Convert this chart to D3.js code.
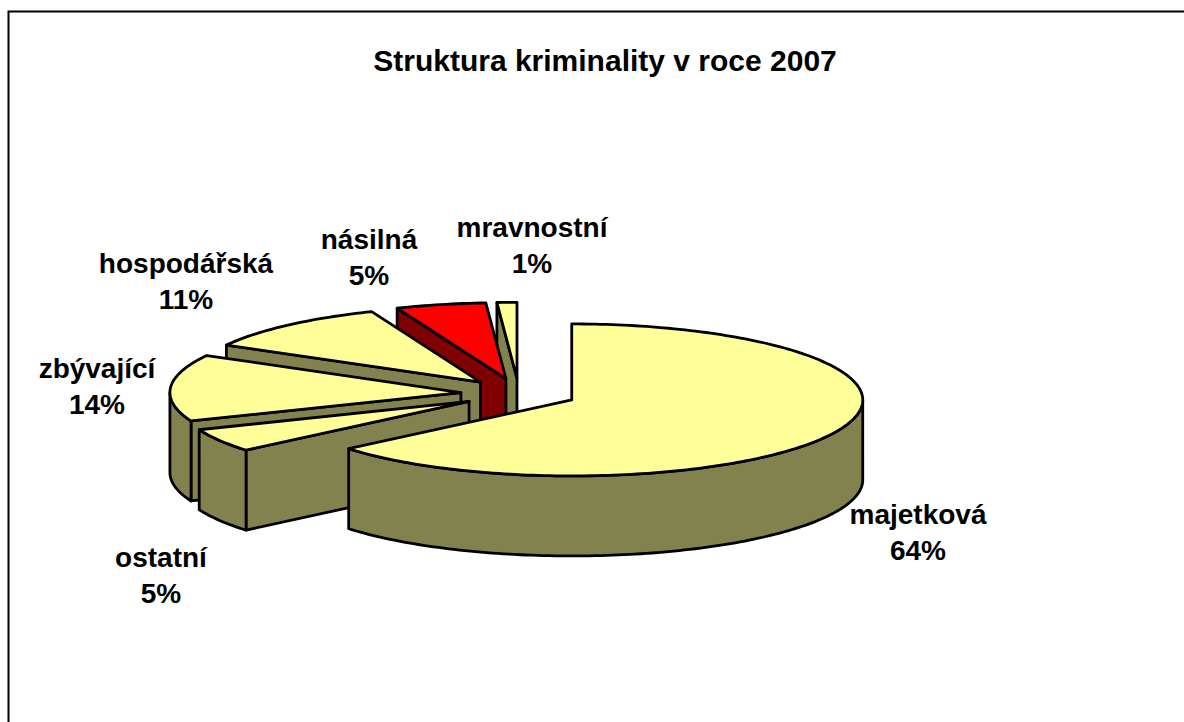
<!DOCTYPE html>
<html><head><meta charset="utf-8">
<script src="https://cdn.jsdelivr.net/npm/d3@7/dist/d3.min.js"></script>
<style>html,body{margin:0;padding:0;background:#fff}svg{display:block}</style>
</head><body><svg id="c" width="1184" height="722"></svg>
<script>
const categories=["majetková","ostatní","zbývající","hospodářská","násilná","mravnostní"];
const values=[63.9,5.0,14.2,10.8,5.0,1.1];
const percentLabels=["64%","5%","14%","11%","5%","1%"];
const title="Struktura kriminality v roce 2007";

const topColors=["#ffff99","#ffff99","#ffff99","#ffff99","#ff0000","#ffff99"];
const sideColors=["#82824e","#82824e","#82824e","#82824e","#7f0000","#82824e"];
const labelX=[918,161,97,186,369,532];
const labelY=[515,558,369,264,240,228];
const cx=519,cy=393.5,rx=291,ry=76,depth=80,explode=0.2,lh=36;
const TAU=2*Math.PI;

const svg=d3.select("#c");
svg.append("path").attr("d","M8.5,722V11.5H1184").attr("fill","none").attr("stroke","#000").attr("stroke-width",2);

const pie=d3.pie().sort(null).value(d=>d)(values);
const lineGen=d3.line();
const g=svg.append("g").attr("stroke","#000").attr("stroke-width",2.8).attr("stroke-linejoin","round");
function pt(a,c,dz){return [c[0]+rx*Math.sin(a),c[1]-ry*Math.cos(a)+(dz||0)];}
function arcPts(s,e,c,dz){const n=Math.max(2,Math.ceil((e-s)/0.02));
  return d3.range(n+1).map(i=>pt(s+(e-s)*i/n,c,dz));}

pie.map((d,i)=>({d,i})).reverse().forEach(({d,i})=>{
  const mid=(d.startAngle+d.endAngle)/2;
  const c=[cx+explode*rx*Math.sin(mid),cy-explode*ry*Math.cos(mid)];
  const apexLow=[c[0],c[1]+depth];
  const s=d.startAngle,e=d.endAngle;
  // radial walls facing the viewer
  if(Math.sin(s)<-1e-6) g.append("path").attr("d",lineGen([c,pt(s,c),pt(s,c,depth),apexLow])+"Z").attr("fill",sideColors[i]);
  if(Math.sin(e)>1e-6) g.append("path").attr("d",lineGen([c,pt(e,c),pt(e,c,depth),apexLow])+"Z").attr("fill",sideColors[i]);
  // outer rim, front half only
  const rs=Math.max(s,TAU/4),re=Math.min(e,3*TAU/4);
  if(re>rs){
    const rim=arcPts(rs,re,c,0).concat(arcPts(rs,re,c,depth).reverse());
    g.append("path").attr("d",lineGen(rim)+"Z").attr("fill",sideColors[i]);
  }
  // top face
  g.append("path").attr("d",lineGen([c].concat(arcPts(s,e,c,0)))+"Z").attr("fill",topColors[i]);
});

const font="'Liberation Sans',Arial,sans-serif";
svg.append("text").attr("x",605).attr("y",71).attr("text-anchor","middle")
  .attr("font-family",font).attr("font-weight","bold").attr("font-size",30).text(title);
categories.forEach((t,i)=>{
  const lab=svg.append("text").attr("text-anchor","middle").attr("font-family",font)
    .attr("font-weight","bold").attr("font-size",28);
  lab.append("tspan").attr("x",labelX[i]).attr("y",labelY[i]+9).text(t);
  lab.append("tspan").attr("x",labelX[i]).attr("y",labelY[i]+9+lh).text(percentLabels[i]);
});
</script></body></html>
